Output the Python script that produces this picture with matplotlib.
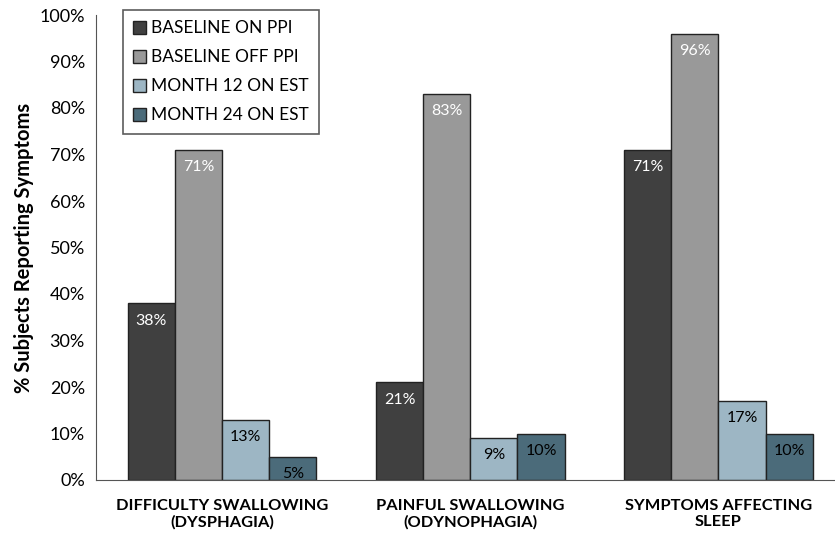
import numpy as np
import matplotlib.pyplot as plt

plt.rcParams['font.family'] = ['Lato', 'DejaVu Sans']

# Datos
categorias = ['DIFFICULTY SWALLOWING\n(DYSPHAGIA)',
              'PAINFUL SWALLOWING\n(ODYNOPHAGIA)',
              'SYMPTOMS AFFECTING\nSLEEP']
series = ['BASELINE ON PPI', 'BASELINE OFF PPI', 'MONTH 12 ON EST', 'MONTH 24 ON EST']
baseline_on = [38, 21, 71]
baseline_off = [71, 83, 96]
month12 = [13, 9, 17]
month24 = [5, 10, 10]
yticks = [0, 10, 20, 30, 40, 50, 60, 70, 80, 90, 100]

colores = ['#404040', '#999999', '#9db6c4', '#4b6b7a']
color_texto = ['white', 'white', 'black', 'black']

fig = plt.figure(figsize=(8.35, 5.38), dpi=100)
ax = fig.add_axes([96/835, 58/538, 1 - 96/835, 465/538])

x = np.arange(len(categorias))
ancho = 0.19
valores = [baseline_on, baseline_off, month12, month24]

for i, (vals, nombre) in enumerate(zip(valores, series)):
    pos = x + (i - 1.5) * ancho
    barras = ax.bar(pos, vals, ancho, color=colores[i], edgecolor='#222222',
                    linewidth=1.0, label=nombre)
    for b, v in zip(barras, vals):
        ax.text(b.get_x() + b.get_width() / 2, v - 2.2, f'{v}%',
                ha='center', va='top', fontsize=11.5, color=color_texto[i])

ax.set_xlim(-0.508, 2.47)
ax.set_ylim(0, 100)
ax.set_yticks(yticks)
ax.set_yticklabels([f'{t}%' for t in yticks], fontsize=13)
ax.set_xticks(x)
ax.set_xticklabels(categorias, fontsize=11.8, fontweight='bold',
                   multialignment='center', linespacing=1.15)
ax.tick_params(axis='both', length=0, pad=8)
ax.tick_params(axis='x', pad=14)
ax.set_ylabel('% Subjects Reporting Symptoms', fontsize=14.5, fontweight='bold', labelpad=4)

for s in ['top', 'right']:
    ax.spines[s].set_visible(False)
ax.spines['left'].set_color('#555555')
ax.spines['bottom'].set_color('#555555')

leg = ax.legend(loc='upper left', bbox_to_anchor=(0.036, 1.011), fontsize=12.5,
                frameon=True, fancybox=False, edgecolor='#333333',
                handlelength=0.75, handleheight=0.75, handletextpad=0.3,
                labelspacing=0.75, borderpad=0.6, borderaxespad=0)
leg.get_frame().set_linewidth(1.2)

plt.savefig('out.png')
